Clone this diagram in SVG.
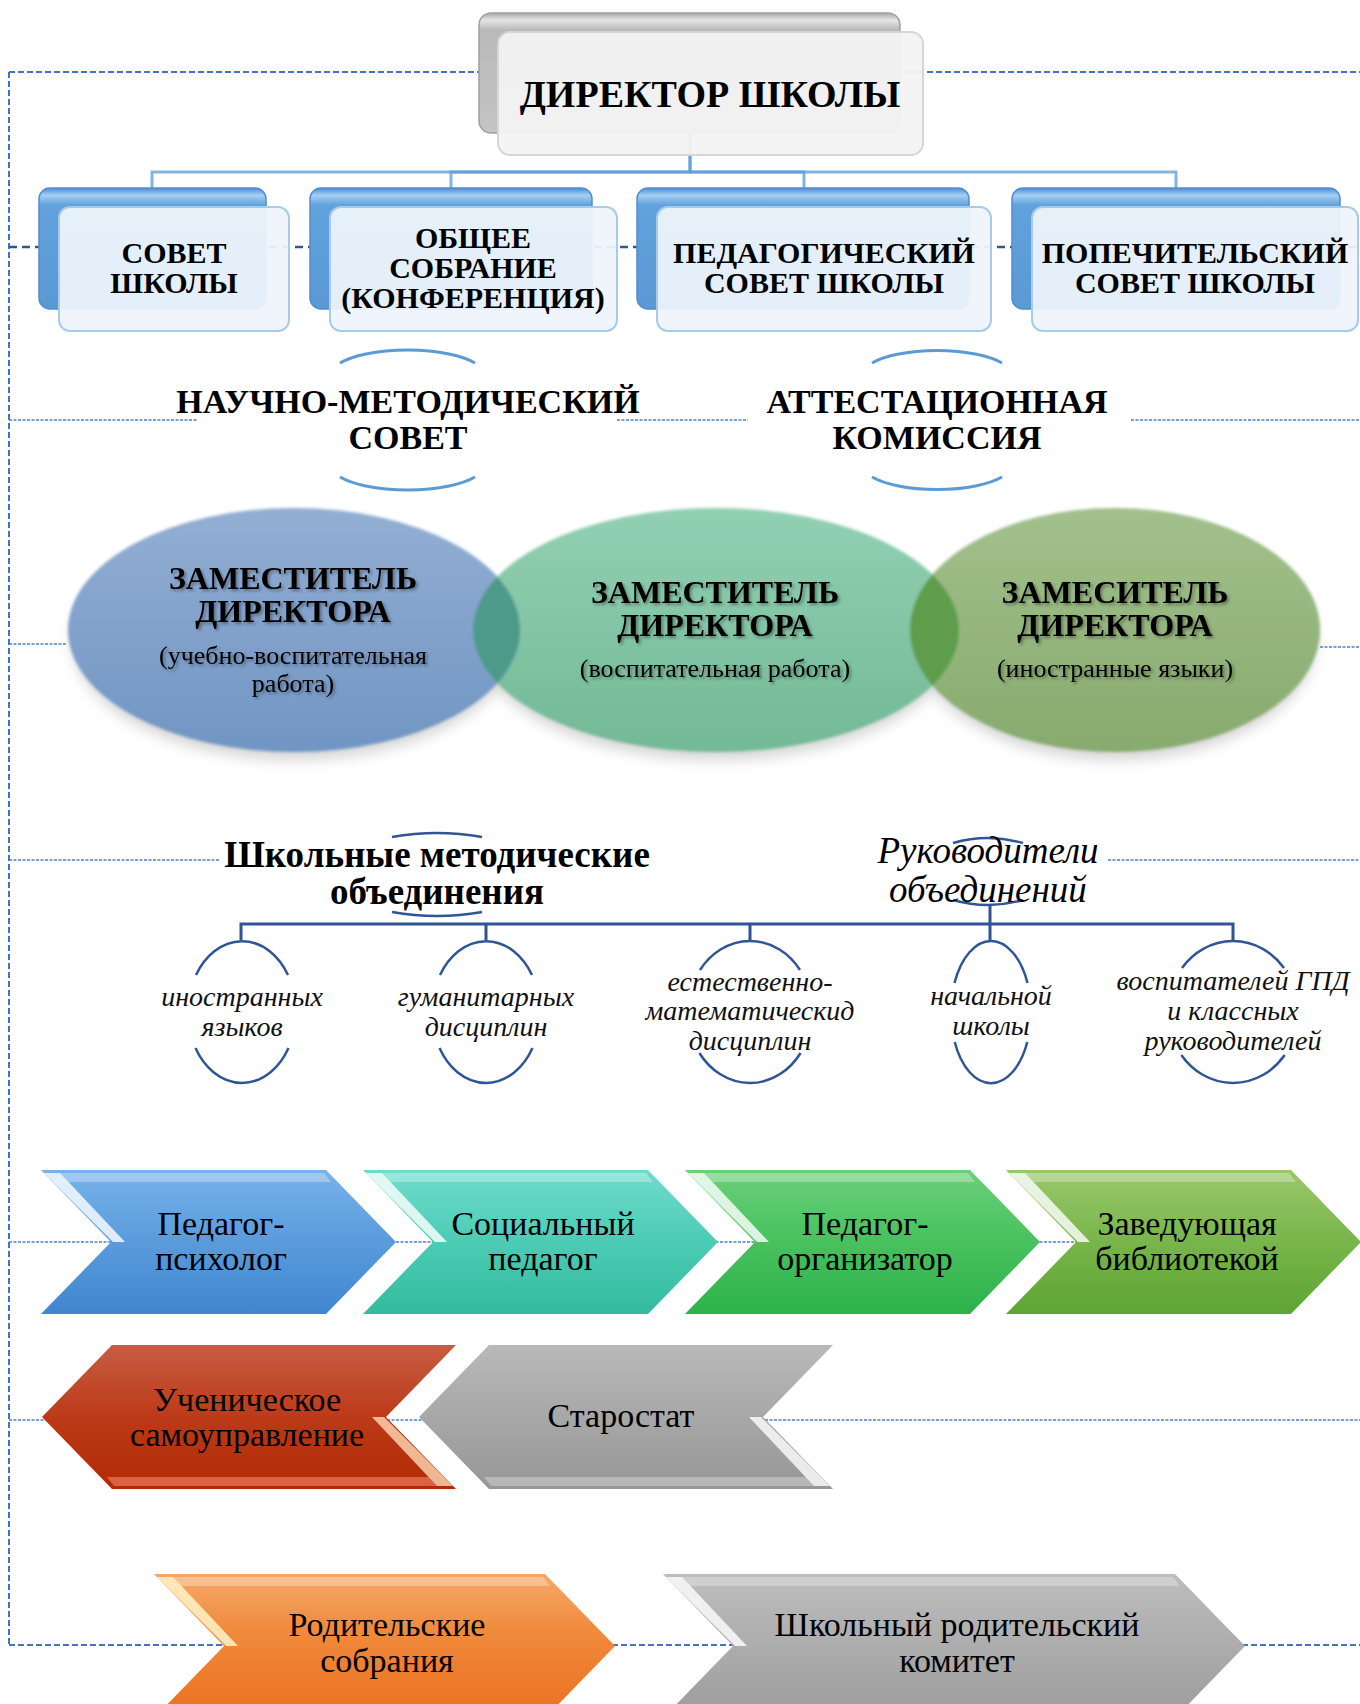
<svg xmlns="http://www.w3.org/2000/svg" width="1360" height="1704" viewBox="0 0 1360 1704">
<defs>
<style>
text{font-family:"Liberation Serif","Times New Roman",serif;text-anchor:middle;fill:#000}
.b{font-weight:bold}
.dir{font-size:38px}
.tier{font-size:30px}
.hdr{font-size:34px}
.zam{font-size:32px}
.sub{font-size:26px}
.grp{font-size:37px}
.it{font-style:italic}
.ruk{font-size:37px}
.ov{font-size:28px;fill:#111}
.ch{font-size:34px}
.dash1{fill:none;stroke:#4472c4;stroke-width:2;stroke-dasharray:6 3}
.dash2{fill:none;stroke:#4a7fd0;stroke-width:1.5;stroke-dasharray:3 1.5}
.dash3{fill:none;stroke:#2f5597;stroke-width:2.5;stroke-dasharray:8 5}
.conn{fill:none;stroke:#5b9bd5;stroke-width:3;stroke-opacity:.75}
.tree{fill:none;stroke:#2f5597;stroke-width:3}
.arc1{fill:none;stroke:#5b9bd5;stroke-width:3}
.arc2{fill:none;stroke:#2f5597;stroke-width:2.5}
.back{fill:url(#gBack);stroke:#4f8fcf;stroke-width:1.5}
.front{fill:#eef4fb;fill-opacity:.94;stroke:#a8cbea;stroke-width:2}
.hl{fill:#fff;opacity:.8}
.band{fill:#fff;opacity:.3}
</style>
<linearGradient id="gBack" x1="0" y1="0" x2="0" y2="1">
<stop offset="0" stop-color="#4a8bd0"/><stop offset=".06" stop-color="#a5d0f5"/><stop offset=".14" stop-color="#62a2dc"/><stop offset="1" stop-color="#5a99d4"/>
</linearGradient>
<linearGradient id="gGray" x1="0" y1="0" x2="0" y2="1">
<stop offset="0" stop-color="#a8a8a8"/><stop offset=".06" stop-color="#e6e6e6"/><stop offset=".14" stop-color="#b9b9b9"/><stop offset="1" stop-color="#c4c4c4"/>
</linearGradient>
<linearGradient id="gE1" x1="0" y1="0" x2="0" y2="1"><stop offset="0" stop-color="#93aed3"/><stop offset="1" stop-color="#7095c3"/></linearGradient>
<linearGradient id="gE2" x1="0" y1="0" x2="0" y2="1"><stop offset="0" stop-color="#92d0b2"/><stop offset="1" stop-color="#72b996"/></linearGradient>
<linearGradient id="gE3" x1="0" y1="0" x2="0" y2="1"><stop offset="0" stop-color="#a2c08c"/><stop offset="1" stop-color="#87aa6e"/></linearGradient>
<linearGradient id="gC1" x1="0" y1="0" x2="0" y2="1"><stop offset="0" stop-color="#78b2ea"/><stop offset=".5" stop-color="#5a9bdc"/><stop offset="1" stop-color="#3f86cf"/></linearGradient>
<linearGradient id="gC2" x1="0" y1="0" x2="0" y2="1"><stop offset="0" stop-color="#70dccc"/><stop offset=".5" stop-color="#4ccbb5"/><stop offset="1" stop-color="#33bb9e"/></linearGradient>
<linearGradient id="gC3" x1="0" y1="0" x2="0" y2="1"><stop offset="0" stop-color="#6cd07a"/><stop offset=".5" stop-color="#48c15e"/><stop offset="1" stop-color="#2cb24a"/></linearGradient>
<linearGradient id="gC4" x1="0" y1="0" x2="0" y2="1"><stop offset="0" stop-color="#9ac86c"/><stop offset=".5" stop-color="#78b54a"/><stop offset="1" stop-color="#5ea534"/></linearGradient>
<linearGradient id="gCr" x1="0" y1="0" x2="0" y2="1"><stop offset="0" stop-color="#b22a04"/><stop offset=".5" stop-color="#bc3a18"/><stop offset="1" stop-color="#c85c44"/></linearGradient>
<linearGradient id="gCg2" x1="0" y1="0" x2="0" y2="1"><stop offset="0" stop-color="#979797"/><stop offset="1" stop-color="#b8b8b8"/></linearGradient>
<linearGradient id="gCo" x1="0" y1="0" x2="0" y2="1"><stop offset="0" stop-color="#f6a868"/><stop offset=".4" stop-color="#f08a3c"/><stop offset="1" stop-color="#eb7020"/></linearGradient>
<linearGradient id="gCg3" x1="0" y1="0" x2="0" y2="1"><stop offset="0" stop-color="#bdbdbd"/><stop offset="1" stop-color="#9c9c9c"/></linearGradient>
<clipPath id="cpE1"><ellipse cx="294" cy="630" rx="226" ry="122"/></clipPath>
<clipPath id="cpE3"><ellipse cx="1115" cy="630" rx="205" ry="122"/></clipPath>
<filter id="soft" x="-10%" y="-10%" width="120%" height="120%"><feGaussianBlur stdDeviation="1.5"/></filter>
<filter id="shadow" x="-20%" y="-20%" width="140%" height="140%"><feGaussianBlur stdDeviation="7"/></filter>
<filter id="ts" x="-10%" y="-20%" width="120%" height="150%"><feDropShadow dx="2" dy="2" stdDeviation="1.5" flood-color="#000" flood-opacity=".35"/></filter>
</defs>

<rect width="1360" height="1704" fill="#fff"/>

<g id="connectors">
<path class="dash1" d="M9 72 H1360 M9 72 V1645"/>
<path class="dash3" d="M9 247 H1360"/>
<path class="dash2" d="M9 420 H197 M617 420 H748 M1131 420 H1360"/>
<path class="dash2" d="M9 644 H66 M1320 647 H1360"/>
<path class="dash2" d="M9 860 H220 M1108 860 H1360"/>
<path class="dash2" d="M9 1242 H1360"/>
<path class="dash2" d="M9 1420 H1360"/>
<path class="dash1" d="M9 1645 H1360"/>
<path class="conn" d="M690 133 V172 H152 V188"/>
<path class="conn" d="M690 133 V172 H451 V188"/>
<path class="conn" d="M690 172 H804 V188"/>
<path class="conn" d="M690 172 H1176 V188"/>
<path class="tree" d="M990 905 V924 M241 940 V924 H1233 V940 M486 924 V940 M750 924 V940 M990 924 V940"/>
</g>

<g id="director">
<rect x="479" y="13" width="421" height="120" rx="12" fill="url(#gGray)" stroke="#a0a0a0" stroke-width="1.5"/>
<rect x="498" y="32" width="425" height="123" rx="12" fill="#f3f3f3" fill-opacity=".94" stroke="#d6d6d6" stroke-width="2"/>
<text class="b dir" x="710" y="107">ДИРЕКТОР ШКОЛЫ</text>
</g>

<g id="sovet-shkoly">
<rect class="back" x="39" y="188" width="227" height="121" rx="11"/>
<rect class="front" x="59" y="207" width="230" height="124" rx="11"/>
<text class="b tier" x="174" y="263">СОВЕТ</text>
<text class="b tier" x="174" y="293">ШКОЛЫ</text>
</g>
<g id="obshchee-sobranie">
<rect class="back" x="310" y="188" width="282" height="121" rx="11"/>
<rect class="front" x="330" y="207" width="287" height="124" rx="11"/>
<text class="b tier" x="473" y="248">ОБЩЕЕ</text>
<text class="b tier" x="473" y="278">СОБРАНИЕ</text>
<text class="b tier" x="473" y="308">(КОНФЕРЕНЦИЯ)</text>
</g>
<g id="ped-sovet">
<rect class="back" x="637" y="188" width="332" height="121" rx="11"/>
<rect class="front" x="657" y="207" width="334" height="124" rx="11"/>
<text class="b tier" x="824" y="263">ПЕДАГОГИЧЕСКИЙ</text>
<text class="b tier" x="824" y="293">СОВЕТ ШКОЛЫ</text>
</g>
<g id="popech-sovet">
<rect class="back" x="1012" y="188" width="328" height="121" rx="11"/>
<rect class="front" x="1032" y="207" width="326" height="124" rx="11"/>
<text class="b tier" x="1195" y="263">ПОПЕЧИТЕЛЬСКИЙ</text>
<text class="b tier" x="1195" y="293">СОВЕТ ШКОЛЫ</text>
</g>

<g id="nauchno-metod-sovet">
<path class="arc1" d="M340 363 A78 26 0 0 1 475 363"/>
<path class="arc1" d="M340 477 A78 26 0 0 0 475 477"/>
<text class="b hdr" x="408" y="413">НАУЧНО-МЕТОДИЧЕСКИЙ</text>
<text class="b hdr" x="408" y="449">СОВЕТ</text>
</g>
<g id="attest-komissiya">
<path class="arc1" d="M872 363 A76 26 0 0 1 1002 363"/>
<path class="arc1" d="M872 477 A76 26 0 0 0 1002 477"/>
<text class="b hdr" x="937" y="413">АТТЕСТАЦИОННАЯ</text>
<text class="b hdr" x="937" y="449">КОМИССИЯ</text>
</g>

<g id="ellipse-shadows" filter="url(#shadow)" opacity=".35">
<ellipse cx="294" cy="640" rx="222" ry="120" fill="#888"/>
<ellipse cx="716" cy="640" rx="239" ry="120" fill="#888"/>
<ellipse cx="1115" cy="640" rx="201" ry="120" fill="#888"/>
</g>
<g id="deputies-shapes" filter="url(#soft)">
<ellipse cx="294" cy="630" rx="226" ry="122" fill="url(#gE1)"/>
<ellipse cx="716" cy="630" rx="243" ry="122" fill="url(#gE2)"/>
<ellipse cx="1115" cy="630" rx="205" ry="122" fill="url(#gE3)"/>
<ellipse cx="716" cy="630" rx="243" ry="122" fill="#4e9a8b" clip-path="url(#cpE1)"/>
<ellipse cx="716" cy="630" rx="243" ry="122" fill="#5f9d4d" clip-path="url(#cpE3)"/>
</g>
<g id="zam-uvr">
<text class="b zam" x="293" y="589" filter="url(#ts)">ЗАМЕСТИТЕЛЬ</text>
<text class="b zam" x="293" y="622" filter="url(#ts)">ДИРЕКТОРА</text>
<text class="sub" x="293" y="664" filter="url(#ts)">(учебно-воспитательная</text>
<text class="sub" x="293" y="692" filter="url(#ts)">работа)</text>
</g>
<g id="zam-vr">
<text class="b zam" x="715" y="603" filter="url(#ts)">ЗАМЕСТИТЕЛЬ</text>
<text class="b zam" x="715" y="636" filter="url(#ts)">ДИРЕКТОРА</text>
<text class="sub" x="715" y="677" filter="url(#ts)">(воспитательная работа)</text>
</g>
<g id="zam-iya">
<text class="b zam" x="1115" y="603" filter="url(#ts)">ЗАМЕСИТЕЛЬ</text>
<text class="b zam" x="1115" y="636" filter="url(#ts)">ДИРЕКТОРА</text>
<text class="sub" x="1115" y="677" filter="url(#ts)">(иностранные языки)</text>
</g>

<g id="shmo">
<path class="arc2" d="M392 837 Q437 829 482 837"/>
<path class="arc2" d="M392 912 Q437 920 482 912"/>
<text class="b grp" x="437" y="867">Школьные методические</text>
<text class="b grp" x="437" y="904">объединения</text>
</g>
<g id="rukovoditeli">
<path class="arc2" d="M953 843 Q988 833 1023 843"/>
<path class="arc2" d="M953 900 Q988 910 1023 900"/>
<text class="it ruk" x="988" y="863">Руководители</text>
<text class="it ruk" x="988" y="902">объединений</text>
</g>

<g id="mo-inostr">
<path class="arc2" d="M196 975 A54 71 0 0 1 288 975"/>
<path class="arc2" d="M195.5 1048 A54 71 0 0 0 288.5 1048"/>
<text class="it ov" x="242" y="1006">иностранных</text>
<text class="it ov" x="242" y="1036">языков</text>
</g>
<g id="mo-gum">
<path class="arc2" d="M440 975 A54 71 0 0 1 532 975"/>
<path class="arc2" d="M439.5 1048 A54 71 0 0 0 532.5 1048"/>
<text class="it ov" x="486" y="1006">гуманитарных</text>
<text class="it ov" x="486" y="1036">дисциплин</text>
</g>
<g id="mo-estmat">
<path class="arc2" d="M700 970 A62 71 0 0 1 800 970"/>
<path class="arc2" d="M699.4 1053 A62 71 0 0 0 800.6 1053"/>
<text class="it ov" x="750" y="991">естественно-</text>
<text class="it ov" x="750" y="1020">математическид</text>
<text class="it ov" x="750" y="1050">дисциплин</text>
</g>
<g id="mo-nach">
<path class="arc2" d="M954.5 983 A40 71 0 0 1 1027.5 983"/>
<path class="arc2" d="M954.7 1042 A40 71 0 0 0 1027.3 1042"/>
<text class="it ov" x="991" y="1005">начальной</text>
<text class="it ov" x="991" y="1035">школы</text>
</g>
<g id="mo-gpd">
<path class="arc2" d="M1182 968 A65 71 0 0 1 1284 968"/>
<path class="arc2" d="M1181.3 1055 A65 71 0 0 0 1284.7 1055"/>
<text class="it ov" x="1233" y="990">воспитателей ГПД</text>
<text class="it ov" x="1233" y="1020">и классных</text>
<text class="it ov" x="1233" y="1050">руководителей</text>
</g>

<g id="ped-psiholog">
<polygon points="41,1170 326,1170 396,1242 326,1314 41,1314 111,1242" fill="url(#gC1)"/>
<polygon class="hl" points="44,1173 60,1173 125,1242 113,1242"/>
<polygon class="band" points="60,1173 324,1173 331,1182 68,1182"/>
<text class="ch" x="221" y="1235">Педагог-</text>
<text class="ch" x="221" y="1270">психолог</text>
</g>
<g id="soc-pedagog">
<polygon points="363,1170 648,1170 718,1242 648,1314 363,1314 433,1242" fill="url(#gC2)"/>
<polygon class="hl" points="366,1173 382,1173 447,1242 435,1242"/>
<polygon class="band" points="382,1173 646,1173 653,1182 390,1182"/>
<text class="ch" x="543" y="1235">Социальный</text>
<text class="ch" x="543" y="1270">педагог</text>
</g>
<g id="ped-organizator">
<polygon points="685,1170 970,1170 1040,1242 970,1314 685,1314 755,1242" fill="url(#gC3)"/>
<polygon class="hl" points="688,1173 704,1173 769,1242 757,1242"/>
<polygon class="band" points="704,1173 968,1173 975,1182 712,1182"/>
<text class="ch" x="865" y="1235">Педагог-</text>
<text class="ch" x="865" y="1270">организатор</text>
</g>
<g id="zav-biblioteka">
<polygon points="1006,1170 1291,1170 1361,1242 1291,1314 1006,1314 1076,1242" fill="url(#gC4)"/>
<polygon class="hl" points="1009,1173 1025,1173 1090,1242 1078,1242"/>
<polygon class="band" points="1025,1173 1289,1173 1296,1182 1033,1182"/>
<text class="ch" x="1187" y="1235">Заведующая</text>
<text class="ch" x="1187" y="1270">библиотекой</text>
</g>

<g id="uch-samoupr">
<g transform="rotate(180 249 1417)">
<polygon points="42,1345 386,1345 456,1417 386,1489 42,1489 112,1417" fill="url(#gCr)"/>
<polygon points="45,1348 61,1348 126,1417 114,1417" fill="#ffd9b8" opacity=".8"/>
<polygon points="61,1348 384,1348 391,1357 69,1357" fill="#ff9a80" opacity=".5"/>
</g>
<text class="ch" x="247" y="1411">Ученическое</text>
<text class="ch" x="247" y="1446">самоуправление</text>
</g>
<g id="starostat">
<g transform="rotate(180 626 1417)">
<polygon points="419,1345 763,1345 833,1417 763,1489 419,1489 489,1417" fill="url(#gCg2)"/>
<polygon class="hl" points="422,1348 438,1348 503,1417 491,1417"/>
<polygon class="band" points="438,1348 761,1348 768,1357 446,1357" opacity=".6"/>
</g>
<text class="ch" x="621" y="1427">Старостат</text>
</g>

<g id="rod-sobraniya">
<polygon points="154,1574 545,1574 615,1646 545,1718 154,1718 224,1646" fill="url(#gCo)"/>
<polygon points="157,1577 173,1577 238,1646 226,1646" fill="#fff3c8" opacity=".85"/>
<polygon class="band" points="173,1577 543,1577 550,1586 181,1586"/>
<text class="ch" x="387" y="1636">Родительские</text>
<text class="ch" x="387" y="1672">собрания</text>
</g>
<g id="rod-komitet">
<polygon points="663,1574 1175,1574 1245,1646 1175,1718 663,1718 733,1646" fill="url(#gCg3)"/>
<polygon class="hl" points="666,1577 682,1577 747,1646 735,1646"/>
<polygon class="band" points="682,1577 1173,1577 1180,1586 690,1586"/>
<text class="ch" x="957" y="1636">Школьный родительский</text>
<text class="ch" x="957" y="1672">комитет</text>
</g>
</svg>
